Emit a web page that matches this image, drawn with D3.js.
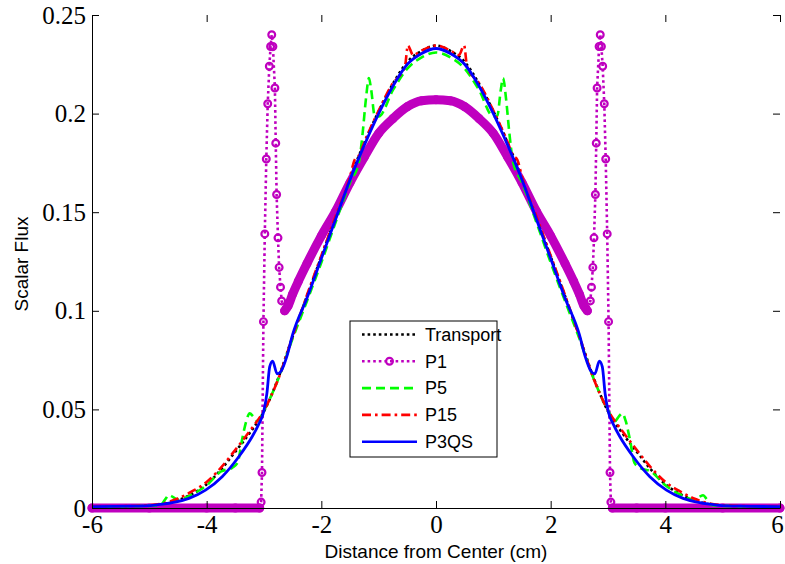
<!DOCTYPE html>
<html>
<head>
<meta charset="utf-8">
<script src="https://cdnjs.cloudflare.com/ajax/libs/d3/7.8.5/d3.min.js"></script>
<style>
  body { margin: 0; background: #fff; }
</style>
</head>
<body>
<div id="graph"></div>
<script>
// Chart size
var width = 785;
var height = 564;

// Axis ticks
var xTicks = [-6, -4, -2, 0, 2, 4, 6];
var xTickLabels = ["-6", "-4", "-2", "0", "2", "4", "6"];
var yTicks = [0, 0.05, 0.1, 0.15, 0.2, 0.25];
var yTickLabels = ["0", "0.05", "0.1", "0.15", "0.2", "0.25"];

var seriesNames = ["Transport", "P1", "P5", "P15", "P3QS"];

// Transport (reference solution)
var transportX = [-6, -5.5, -5, -4.75, -4.5, -4.25, -4, -3.75, -3.5, -3.25, -3, -2.75, -2.5, -2.25, -2, -1.75, -1.5, -1.25, -1, -0.75, -0.5, -0.25, 0,
  0.25, 0.5, 0.75, 1, 1.25, 1.5, 1.75, 2, 2.25, 2.5, 2.75, 3, 3.25, 3.5, 3.75, 4, 4.25, 4.5, 4.75, 5, 5.5, 6];
var transportY = [0.0007, 0.0008, 0.0012, 0.0020, 0.0040, 0.0072, 0.0120, 0.0195, 0.0286, 0.0380, 0.0490, 0.0660, 0.0870, 0.1075, 0.1275, 0.1475, 0.1675, 0.1852, 0.2012, 0.2152, 0.2262, 0.2318, 0.2345,
  0.2318, 0.2262, 0.2152, 0.2012, 0.1852, 0.1675, 0.1475, 0.1275, 0.1075, 0.0870, 0.0660, 0.0490, 0.0380, 0.0286, 0.0195, 0.0120, 0.0072, 0.0040, 0.0020, 0.0012, 0.0008, 0.0007];

// P1 (markers get dense where the band is)
var p1X = [-6, -5, -4, -3.5, -3.075, -3.05, -3.035, -3.01, -2.986, -2.96, -2.935, -2.907, -2.885, -2.865, -2.845, -2.81, -2.795, -2.78, -2.756, -2.736, -2.712, -2.692,
  -2.64, -2.58, -2.5, -2.4, -2.25, -2, -1.75, -1.5, -1.25, -1, -0.75, -0.5, -0.25, 0, 0.25, 0.5, 0.75, 1, 1.25, 1.5, 1.75, 2, 2.25, 2.4, 2.5, 2.58, 2.64,
  2.692, 2.712, 2.736, 2.756, 2.78, 2.795, 2.81, 2.845, 2.865, 2.885, 2.907, 2.935, 2.96, 2.986, 3.01, 3.035, 3.05, 3.075, 3.5, 4, 5, 6];
var p1Y = [0, 0, 0, 0, 0, 0.003, 0.018, 0.0945, 0.139, 0.177, 0.205, 0.224, 0.234, 0.240, 0.234, 0.213, 0.185, 0.159, 0.137, 0.122, 0.112, 0.105,
  0.100, 0.1025, 0.1085, 0.115, 0.124, 0.138, 0.1505, 0.165, 0.178, 0.190, 0.1975, 0.2035, 0.2065, 0.207, 0.2065, 0.2035, 0.1975, 0.190, 0.178, 0.165, 0.1505, 0.138, 0.124, 0.115, 0.1085, 0.1025, 0.100,
  0.105, 0.112, 0.122, 0.137, 0.159, 0.185, 0.213, 0.234, 0.240, 0.234, 0.224, 0.205, 0.177, 0.139, 0.0945, 0.018, 0.003, 0, 0, 0, 0, 0];

// P5
var p5X = [-6, -5.5, -5, -4.8, -4.72, -4.66, -4.6, -4.5, -4.25, -4, -3.75, -3.55, -3.46, -3.38, -3.31, -3.25, -3.19, -3.12, -3, -2.75, -2.5, -2.25, -2, -1.75, -1.5, -1.34, -1.28, -1.22, -1.17, -1.13, -1.07, -1, -0.75, -0.5, -0.25, 0,
  0.25, 0.5, 0.75, 1, 1.07, 1.13, 1.17, 1.22, 1.28, 1.34, 1.5, 1.75, 2, 2.25, 2.5, 2.75, 3, 3.12, 3.19, 3.25, 3.31, 3.38, 3.46, 3.55, 3.75, 4, 4.25, 4.5, 4.6, 4.66, 4.72, 4.8, 5, 5.5, 6];
var p5Y = [0.0007, 0.0008, 0.0011, 0.0016, 0.0045, 0.0065, 0.0058, 0.0042, 0.0070, 0.0115, 0.0185, 0.0205, 0.0230, 0.0350, 0.0440, 0.0480, 0.0465, 0.0440, 0.0495, 0.0655, 0.0860, 0.1050, 0.1245, 0.1450, 0.1650, 0.1760, 0.1900, 0.2080, 0.2180, 0.2120, 0.1990, 0.1985, 0.2120, 0.2228, 0.2285, 0.2310,
  0.2285, 0.2228, 0.2120, 0.1985, 0.1990, 0.2120, 0.2180, 0.2080, 0.1900, 0.1760, 0.1650, 0.1450, 0.1245, 0.1050, 0.0860, 0.0655, 0.0495, 0.0440, 0.0465, 0.0480, 0.0440, 0.0350, 0.0230, 0.0205, 0.0185, 0.0115, 0.0070, 0.0042, 0.0058, 0.0065, 0.0045, 0.0016, 0.0011, 0.0008, 0.0007];

// P15
var p15X = [-6, -5.5, -5, -4.75, -4.5, -4.25, -4, -3.75, -3.5, -3.25, -3, -2.75, -2.5, -2.25, -2, -1.75, -1.5, -1.42, -1.34, -1.25, -1, -0.75, -0.58, -0.54, -0.49, -0.4, -0.25, 0,
  0.25, 0.4, 0.49, 0.54, 0.58, 0.75, 1, 1.25, 1.34, 1.42, 1.5, 1.75, 2, 2.25, 2.5, 2.75, 3, 3.25, 3.5, 3.75, 4, 4.25, 4.5, 4.75, 5, 5.5, 6];
var p15Y = [0.0008, 0.0009, 0.0014, 0.0024, 0.0048, 0.0085, 0.0132, 0.0205, 0.0295, 0.0390, 0.0495, 0.0655, 0.0870, 0.1080, 0.1280, 0.1480, 0.1680, 0.1765, 0.1790, 0.1855, 0.2015, 0.2155, 0.2215, 0.2240, 0.2345, 0.2297, 0.2320, 0.2345,
  0.2320, 0.2297, 0.2345, 0.2240, 0.2215, 0.2155, 0.2015, 0.1855, 0.1790, 0.1765, 0.1680, 0.1480, 0.1280, 0.1080, 0.0870, 0.0655, 0.0495, 0.0390, 0.0295, 0.0205, 0.0132, 0.0085, 0.0048, 0.0024, 0.0014, 0.0009, 0.0008];

// P3QS
var p3X = [-6, -5.3, -4.9, -4.6, -4.31, -4.02, -3.73, -3.44, -3.2, -3.1, -3, -2.95, -2.9, -2.85, -2.77, -2.7, -2.6, -2.5, -2.25, -2, -1.75, -1.5, -1.25, -1, -0.75, -0.5, -0.25, 0,
  0.25, 0.5, 0.75, 1, 1.25, 1.5, 1.75, 2, 2.25, 2.5, 2.6, 2.7, 2.77, 2.85, 2.9, 2.95, 3, 3.1, 3.2, 3.44, 3.73, 4.02, 4.31, 4.6, 4.9, 5.3, 6];
var p3Y = [0.0007, 0.0009, 0.0015, 0.0027, 0.0049, 0.0091, 0.0159, 0.0260, 0.0365, 0.0420, 0.0495, 0.0580, 0.0717, 0.0745, 0.0680, 0.0695, 0.0770, 0.0880, 0.1065, 0.1265, 0.1465, 0.1665, 0.1840, 0.2000, 0.2140, 0.2250, 0.2305, 0.2330,
  0.2305, 0.2250, 0.2140, 0.2000, 0.1840, 0.1665, 0.1465, 0.1265, 0.1065, 0.0880, 0.0770, 0.0695, 0.0680, 0.0745, 0.0717, 0.0580, 0.0495, 0.0420, 0.0365, 0.0260, 0.0159, 0.0091, 0.0049, 0.0027, 0.0015, 0.0009, 0.0007];

var magenta = "#bf00bf";

// Create the SVG element
var svg = d3.select("#graph")
  .append("svg")
  .attr("width", width)
  .attr("height", height)
  .style("font-family", "'Liberation Sans', Arial, sans-serif");

// Scales
var xScale = d3.scaleLinear().domain([-6, 6]).range([92, 780]);
var yScale = d3.scaleLinear().domain([0, 0.25]).range([508, 15]);

function pts(xs, ys) {
  return xs.map(function(x, i) { return {x: x, y: ys[i]}; });
}

var line = d3.line()
  .x(function(d) { return xScale(d.x); })
  .y(function(d) { return yScale(d.y); })
  .curve(d3.curveMonotoneX);

// Transport - black dotted
svg.append("path")
  .datum(pts(transportX, transportY))
  .attr("fill", "none")
  .attr("stroke", "#000")
  .attr("stroke-width", 2.6)
  .attr("stroke-dasharray", "2.6,3")
  .attr("d", line);

// P1 - thick band where the circle markers pile up
var p1 = pts(p1X, p1Y);
var bandLine = d3.line()
  .defined(function(d) { return Math.abs(d.x) <= 2.64 || Math.abs(d.x) >= 3.075; })
  .x(function(d) { return xScale(d.x); })
  .y(function(d) { return yScale(d.y); })
  .curve(d3.curveMonotoneX);

svg.append("path")
  .datum(p1)
  .attr("fill", "none")
  .attr("stroke", magenta)
  .attr("stroke-width", 9)
  .attr("stroke-linecap", "round")
  .attr("stroke-linejoin", "round")
  .attr("d", bandLine);

svg.append("path")
  .datum(p1)
  .attr("fill", "none")
  .attr("stroke", magenta)
  .attr("stroke-width", 2.6)
  .attr("stroke-dasharray", "2.6,3")
  .attr("d", d3.line()
    .x(function(d) { return xScale(d.x); })
    .y(function(d) { return yScale(d.y); }));

svg.append("g")
  .selectAll("circle")
  .data(p1)
  .enter().append("circle")
  .attr("cx", function(d) { return xScale(d.x); })
  .attr("cy", function(d) { return yScale(d.y); })
  .attr("r", 3.4)
  .attr("fill", "none")
  .attr("stroke", magenta)
  .attr("stroke-width", 2.2);

// P5 - green dashed
svg.append("path")
  .datum(pts(p5X, p5Y))
  .attr("fill", "none")
  .attr("stroke", "#00ff00")
  .attr("stroke-width", 2.6)
  .attr("stroke-dasharray", "9,5")
  .attr("d", line);

// P15 - red dash-dot
svg.append("path")
  .datum(pts(p15X, p15Y))
  .attr("fill", "none")
  .attr("stroke", "#ff0000")
  .attr("stroke-width", 2.6)
  .attr("stroke-dasharray", "9,4,2.6,4")
  .attr("d", line);

// P3QS - blue solid
svg.append("path")
  .datum(pts(p3X, p3Y))
  .attr("fill", "none")
  .attr("stroke", "#0000ff")
  .attr("stroke-width", 2.8)
  .attr("d", line);

// Axes (ticks point inward)
function styleAxis(g) {
  g.attr("font-family", "'Liberation Serif', 'Times New Roman', serif")
    .attr("font-size", 25);
  g.selectAll("text").attr("fill", "#000");
  g.selectAll("line").attr("stroke", "#000");
  g.select(".domain").attr("stroke", "#000");
}

svg.append("g")
  .attr("transform", "translate(0,508)")
  .call(d3.axisBottom(xScale).tickValues(xTicks)
    .tickFormat(function(d, i) { return xTickLabels[i]; })
    .tickSizeInner(-7).tickSizeOuter(0).tickPadding(7))
  .call(styleAxis)
  .call(function(g) {
    // keep the last label inside the frame
    g.selectAll(".tick text").filter(function(d) { return d === 6; }).attr("dx", "-3");
  });

svg.append("g")
  .attr("transform", "translate(92,0)")
  .call(d3.axisLeft(yScale).tickValues(yTicks)
    .tickFormat(function(d, i) { return yTickLabels[i]; })
    .tickSizeInner(-7).tickSizeOuter(0).tickPadding(6))
  .call(styleAxis);

// top and right ticks, no lines
svg.append("g")
  .attr("transform", "translate(0,15)")
  .call(d3.axisTop(xScale).tickValues(xTicks).tickFormat("").tickSizeInner(-7).tickSizeOuter(0))
  .call(function(g) { g.select(".domain").remove(); g.selectAll("line").attr("stroke", "#000"); });

svg.append("g")
  .attr("transform", "translate(780,0)")
  .call(d3.axisRight(yScale).tickValues(yTicks).tickFormat("").tickSizeInner(-7).tickSizeOuter(0))
  .call(function(g) { g.select(".domain").remove(); g.selectAll("line").attr("stroke", "#000"); });

// Axis labels
svg.append("text")
  .attr("x", 436)
  .attr("y", 558)
  .attr("text-anchor", "middle")
  .attr("font-size", 19)
  .text("Distance from Center (cm)");

svg.append("text")
  .attr("transform", "translate(28,264) rotate(-90)")
  .attr("text-anchor", "middle")
  .attr("font-size", 19)
  .text("Scalar Flux");

// Legend
var legend = svg.append("g").attr("transform", "translate(350,321)");
legend.append("rect")
  .attr("width", 147)
  .attr("height", 136)
  .attr("fill", "#fff")
  .attr("stroke", "#000")
  .attr("stroke-width", 1);

var legendStyles = [
  {color: "#000", dash: "2.6,3"},
  {color: magenta, dash: "2.6,3", marker: true},
  {color: "#00ff00", dash: "9,5"},
  {color: "#ff0000", dash: "9,4,2.6,4"},
  {color: "#0000ff", dash: null}
];

seriesNames.forEach(function(name, i) {
  var yy = 13.5 + i * 26.8;
  var s = legendStyles[i];
  legend.append("line")
    .attr("x1", 12).attr("x2", 67)
    .attr("y1", yy).attr("y2", yy)
    .attr("stroke", s.color)
    .attr("stroke-width", 2.6)
    .attr("stroke-dasharray", s.dash);
  if (s.marker) {
    legend.append("circle")
      .attr("cx", 39.5).attr("cy", yy).attr("r", 3.4)
      .attr("fill", "none").attr("stroke", s.color).attr("stroke-width", 2.2);
  }
  legend.append("text")
    .attr("x", 75)
    .attr("y", yy)
    .attr("dy", "0.35em")
    .attr("font-size", 18)
    .text(name);
});
</script>
</body>
</html>
